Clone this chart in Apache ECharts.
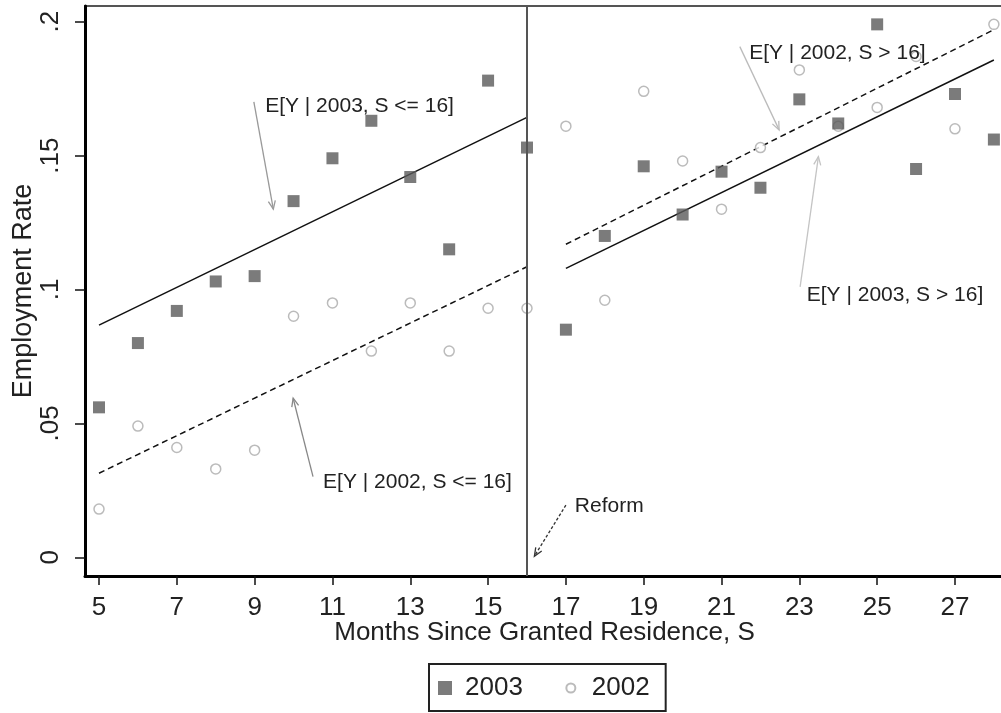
<!DOCTYPE html>
<html>
<head>
<meta charset="utf-8">
<script src="https://cdn.jsdelivr.net/npm/echarts@6/dist/echarts.min.js"></script>
<style>
html, body { margin: 0; background: #fff; }
#chart { width: 1001px; height: 713px; }
</style>
</head>
<body>
<div id="chart"></div>
<script>
// months since granted residence
var months = [5, 6, 7, 8, 9, 10, 11, 12, 13, 14, 15, 16, 17, 18, 19, 20, 21, 22, 23, 24, 25, 26, 27, 28];
// employment rates
var rate2003 = [0.056, 0.080, 0.092, 0.103, 0.105, 0.133, 0.149, 0.163, 0.142, 0.115, 0.178, 0.153,
                0.085, 0.120, 0.146, 0.128, 0.144, 0.138, 0.171, 0.162, 0.199, 0.145, 0.173, 0.156];
var rate2002 = [0.018, 0.049, 0.041, 0.033, 0.040, 0.090, 0.095, 0.077, 0.095, 0.077, 0.093, 0.093,
                0.161, 0.096, 0.174, 0.148, 0.130, 0.153, 0.182, 0.161, 0.168, 0.187, 0.160, 0.199];
// fitted lines, endpoints
var preMonths = [5, 16];
var postMonths = [17, 28];
var fit2003Pre = [0.0867, 0.1643];
var fit2002Pre = [0.0314, 0.1085];
var fit2003Post = [0.1079, 0.1857];
var fit2002Post = [0.1169, 0.1970];
var reformMonth = 16;

var xTicks = [5, 7, 9, 11, 13, 15, 17, 19, 21, 23, 25, 27];
var yTicks = [0, 0.05, 0.1, 0.15, 0.2];

// annotation texts, placed in data coordinates
var notes = [
    { text: 'E[Y | 2003, S <= 16]', at: [9.27, 0.1683], from: [8.98, 0.1701], to: [9.48, 0.1300], color: '#999' },
    { text: 'E[Y | 2002, S <= 16]', at: [10.76, 0.0282], from: [10.50, 0.0301], to: [9.99, 0.0594], color: '#888' },
    { text: 'Reform', at: [17.23, 0.0189], from: [17.00, 0.0195], to: [16.19, 0.0004], color: '#333', dash: [3, 2] },
    { text: 'E[Y | 2002, S > 16]', at: [21.71, 0.1882], from: [21.47, 0.1907], to: [22.48, 0.1596], color: '#bbb' },
    { text: 'E[Y | 2003, S > 16]', at: [23.19, 0.0978], from: [23.02, 0.1010], to: [23.49, 0.1496], color: '#c4c4c4' }
];

var FONT = 'Liberation Sans, Arial, sans-serif';

function pairs(xs, ys) {
    return xs.map(function (x, i) { return [x, ys[i]]; });
}

function fitSeries(name, xs, ys, dashed) {
    return {
        name: name,
        type: 'line',
        data: pairs(xs, ys),
        symbol: 'none',
        silent: true,
        lineStyle: { color: '#111', width: 1.5, type: dashed ? [6, 4] : 'solid' },
        z: 2
    };
}

var chart = echarts.init(document.getElementById('chart'));

var fitPre = fitSeries('fit2003pre', preMonths, fit2003Pre, false);
fitPre.markLine = {
    silent: true,
    symbol: 'none',
    label: { show: false },
    lineStyle: { color: '#555', width: 2, type: 'solid' },
    data: [{ xAxis: reformMonth }]
};

chart.setOption({
    animation: false,
    backgroundColor: '#fff',
    textStyle: { fontFamily: FONT },
    grid: {
        left: 85,
        top: 6,
        width: 919,
        height: 570,
        outerBoundsMode: 'none',
        show: true,
        borderColor: '#555',
        borderWidth: 2,
        backgroundColor: '#fff'
    },
    legend: {
        data: [
            { name: '2003', icon: 'path://M0,0h14v14h-14zM22,14' },
            { name: '2002', icon: 'path://M0,0M22,14M1.5,7a4.5,4.5 0 1,0 9,0a4.5,4.5 0 1,0 -9,0z' }
        ],
        left: 429,
        top: 664,
        padding: [11, 16, 10, 9],
        itemGap: 41,
        itemWidth: 22,
        itemHeight: 14,
        selectedMode: false,
        borderColor: '#222',
        borderWidth: 2,
        backgroundColor: '#fff',
        textStyle: { fontSize: 26, color: '#222', fontFamily: FONT }
    },
    xAxis: {
        type: 'value',
        min: 4.64,
        max: 28.26,
        name: 'Months Since Granted Residence, S',
        nameLocation: 'middle',
        nameGap: 44,
        nameMoveOverlap: false,
        nameTextStyle: { fontSize: 26, color: '#222', fontFamily: FONT },
        axisLine: { show: true, onZero: false, lineStyle: { color: '#000', width: 3 } },
        axisTick: { show: true, customValues: xTicks, length: 9, lineStyle: { color: '#111', width: 1.5 } },
        axisLabel: { customValues: xTicks, margin: 19, fontSize: 26, color: '#222', fontFamily: FONT },
        splitLine: { show: false }
    },
    yAxis: {
        type: 'value',
        min: -0.00698,
        max: 0.20586,
        name: 'Employment Rate',
        nameLocation: 'middle',
        nameGap: 48,
        nameMoveOverlap: false,
        nameTextStyle: { fontSize: 27, color: '#222', fontFamily: FONT },
        axisLine: { show: true, onZero: false, lineStyle: { color: '#000', width: 3 } },
        axisTick: { show: true, customValues: yTicks, length: 10, lineStyle: { color: '#111', width: 1.5 } },
        axisLabel: {
            customValues: yTicks,
            rotate: 90,
            margin: 21,
            fontSize: 26,
            color: '#222',
            fontFamily: FONT,
            formatter: function (v) { return v === 0 ? '0' : String(v).replace(/^0/, ''); }
        },
        splitLine: { show: false }
    },
    series: [
        fitPre,
        fitSeries('fit2002pre', preMonths, fit2002Pre, true),
        fitSeries('fit2003post', postMonths, fit2003Post, false),
        fitSeries('fit2002post', postMonths, fit2002Post, true),
        {
            name: '2003',
            type: 'scatter',
            data: pairs(months, rate2003),
            symbol: 'rect',
            symbolSize: 12,
            itemStyle: { color: '#5a5a5a' },
            z: 4
        },
        {
            name: '2002',
            type: 'scatter',
            data: pairs(months, rate2002),
            symbol: 'circle',
            symbolSize: 10,
            itemStyle: { color: '#fff', borderColor: '#aaa', borderWidth: 1.5 },
            z: 3
        }
    ]
});

// arrows and texts for the annotations
var els = [];
notes.forEach(function (n) {
    var a = chart.convertToPixel({ gridIndex: 0 }, n.from);
    var b = chart.convertToPixel({ gridIndex: 0 }, n.to);
    var t = chart.convertToPixel({ gridIndex: 0 }, n.at);
    var dx = b[0] - a[0], dy = b[1] - a[1];
    var len = Math.sqrt(dx * dx + dy * dy);
    var ux = dx / len, uy = dy / len;
    var h = 9, ang = 0.4;
    var c = Math.cos(ang), s = Math.sin(ang);
    var p1 = [b[0] - h * (ux * c - uy * s), b[1] - h * (uy * c + ux * s)];
    var p2 = [b[0] - h * (ux * c + uy * s), b[1] - h * (uy * c - ux * s)];
    els.push({
        type: 'line',
        silent: true,
        shape: { x1: a[0], y1: a[1], x2: b[0], y2: b[1] },
        style: { stroke: n.color, lineWidth: 1.3, lineDash: n.dash || null },
        z: 10
    });
    els.push({
        type: 'polyline',
        silent: true,
        shape: { points: [p1, b, p2] },
        style: { stroke: n.color, lineWidth: 1.3, fill: null },
        z: 10
    });
    els.push({
        type: 'text',
        silent: true,
        x: t[0],
        y: t[1],
        style: {
            text: n.text,
            fill: '#222',
            font: '21px ' + FONT,
            verticalAlign: 'middle',
            align: 'left'
        },
        z: 10
    });
});
chart.setOption({ graphic: els });
</script>
</body>
</html>
